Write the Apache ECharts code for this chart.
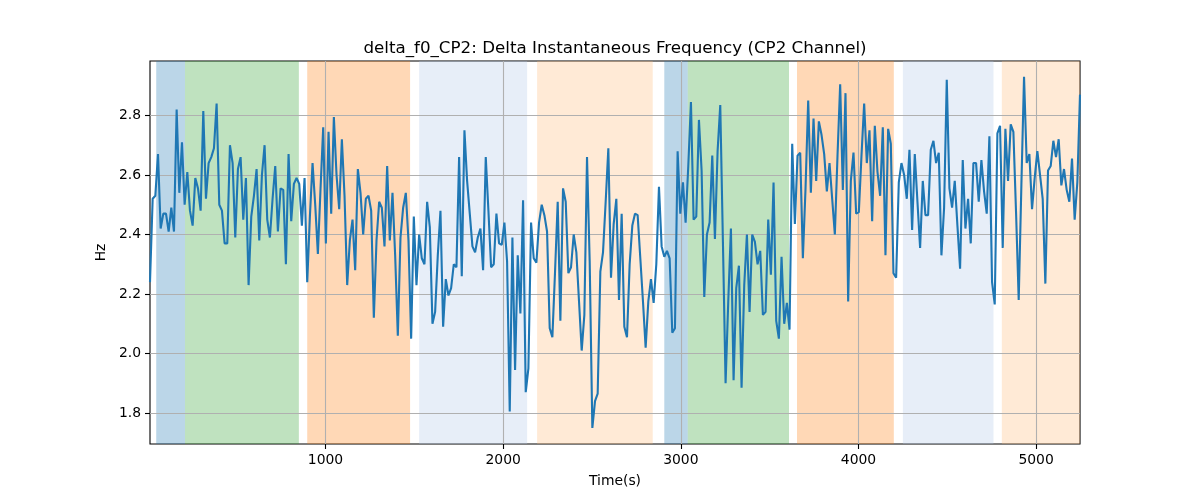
<!DOCTYPE html>
<html>
<head>
<meta charset="utf-8">
<script src="https://cdn.jsdelivr.net/npm/echarts@6/dist/echarts.min.js"></script>
<style>html,body{margin:0;padding:0;background:#fff}#c{width:1200px;height:500px}</style>
</head>
<body>
<div id="c"></div>
<script>
const t0 = 12, dt = 15;
const values1 = [2.24,2.52,2.53,2.67,2.42,2.47,2.47,2.41,2.49,2.41,2.82,2.54,2.71,2.50,2.61,2.48,2.43,2.59,2.555,2.48,2.815,2.52,2.64,2.66,2.69,2.84,2.50,2.48,2.37,2.37,2.70,2.64,2.39,2.62,2.66,2.45,2.59,2.23,2.46,2.53,2.62,2.38,2.60,2.70,2.45,2.39];
const values2 = [2.52,2.63,2.41,2.555,2.55,2.30,2.67,2.445,2.57,2.59,2.57,2.43,2.59,2.24,2.46,2.64,2.50,2.335,2.555,2.76,2.37,2.745,2.47,2.795,2.60,2.485,2.72,2.53,2.23,2.38,2.45,2.28,2.62,2.54,2.40,2.52,2.53,2.48,2.12,2.38,2.51,2.49,2.36,2.63,2.38];
const values3 = [2.54,2.33,2.06,2.39,2.49,2.54,2.38,2.05,2.46,2.23,2.40,2.32,2.30,2.51,2.425,2.10,2.14,2.33,2.48,2.09,2.25,2.195,2.22,2.30,2.29,2.66,2.26,2.75,2.58,2.47,2.36,2.34,2.39,2.42,2.28,2.66,2.48,2.29,2.30,2.47,2.37,2.365,2.44,2.31,1.805];
const values4 = [2.39,1.945,2.33,2.135,2.515,1.87,1.95,2.44,2.32,2.305,2.44,2.50,2.465,2.41,2.085,2.055,2.275,2.51,2.11,2.555,2.51,2.27,2.29,2.40,2.34,2.175,2.01,2.13,2.66,2.31,1.75,1.84,1.865,2.275,2.34,2.51,2.69,2.255,2.435,2.52,2.18,2.47,2.09,2.055,2.30];
const values5 = [2.43,2.47,2.465,2.32,2.175,2.02,2.175,2.25,2.17,2.30,2.56,2.36,2.325,2.345,2.32,2.07,2.085,2.68,2.47,2.575,2.44,2.63,2.845,2.45,2.46,2.785,2.615,2.19,2.40,2.44,2.665,2.385,2.68,2.835,2.375,1.90,2.175,2.42,1.91,2.22,2.295,1.885,2.23,2.40,2.14];
const values6 = [2.40,2.375,2.30,2.345,2.13,2.14,2.45,2.265,2.575,2.11,2.05,2.325,2.10,2.17,2.08,2.705,2.435,2.665,2.675,2.32,2.555,2.85,2.54,2.79,2.58,2.78,2.735,2.67,2.545,2.64,2.52,2.40,2.665,2.905,2.55,2.875,2.175,2.58,2.675,2.47,2.475,2.665,2.84,2.64,2.75];
const values7 = [2.445,2.765,2.61,2.53,2.76,2.33,2.755,2.705,2.27,2.255,2.575,2.64,2.60,2.52,2.685,2.415,2.67,2.51,2.355,2.58,2.465,2.465,2.685,2.715,2.64,2.675,2.33,2.49,2.92,2.555,2.49,2.58,2.43,2.285,2.65,2.42,2.52,2.37,2.64,2.64,2.51,2.65,2.545,2.47,2.73];
const values8 = [2.24,2.165,2.74,2.765,2.355,2.755,2.58,2.77,2.745,2.475,2.18,2.565,2.93,2.64,2.67,2.485,2.59,2.68,2.60,2.52,2.235,2.615,2.63,2.715,2.66,2.72,2.565,2.62,2.55,2.51,2.655,2.45,2.575,2.87];

const phaseStart = [47, 209, 897, 1527, 2191, 2907, 3039, 3654, 4250, 4807];
const phaseEnd   = [209, 850, 1476, 2135, 2842, 3039, 3609, 4199, 4760, 5247];
const phaseKind  = ['A', 'B', 'C', 'D', 'E', 'A', 'B', 'C', 'D', 'E'];

const yTicks = [1.8, 2.0, 2.2, 2.4, 2.6, 2.8];
const xTicks = [1000, 2000, 3000, 4000, 5000];

const titleText = 'delta_f0_CP2: Delta Instantaneous Frequency (CP2 Channel)';
const xName = 'Time(s)';
const yName = 'Hz';

const values = [].concat(values1, values2, values3, values4, values5, values6, values7, values8);
const points = values.map((v, i) => [t0 + dt * i, v]);
const xMin = t0, xMax = t0 + dt * (values.length - 1);

const kindColor = {A: '#1f77b4', B: '#2ca02c', C: '#ff7f0e', D: '#aec7e8', E: '#ffbb78'};
const areas = phaseStart.map((s, i) => [
  {xAxis: s, itemStyle: {color: kindColor[phaseKind[i]], opacity: 0.3}},
  {xAxis: phaseEnd[i]}
]);
const gridLines = yTicks.map(v => ({yAxis: v})).concat(xTicks.map(v => ({xAxis: v})));

const font = 'DejaVu Sans';
const chart = echarts.init(document.getElementById('c'), null, {renderer: 'canvas'});
chart.setOption({
  animation: false,
  backgroundColor: '#fff',
  title: {
    text: titleText, left: 610, top: 35, textAlign: 'center',
    textStyle: {fontFamily: font, fontSize: 16.7, fontWeight: 'normal', color: '#000'}
  },
  grid: {left: 150, top: 61, width: 930, height: 383, show: true, borderColor: '#000', borderWidth: 1.1, backgroundColor: 'transparent'},
  xAxis: {
    type: 'value', min: xMin, max: xMax,
    name: xName, nameLocation: 'middle', nameGap: 30,
    nameTextStyle: {fontFamily: font, fontSize: 13.9, color: '#000'},
    axisLine: {show: false},
    axisTick: {show: true, length: 5, lineStyle: {color: '#000', width: 1.1}, customValues: xTicks},
    axisLabel: {fontFamily: font, fontSize: 13.9, color: '#000', margin: 9, customValues: xTicks, formatter: v => String(v)},
    splitLine: {show: false}
  },
  yAxis: {
    type: 'value', min: 1.696, max: 2.983,
    name: yName, nameLocation: 'middle', nameGap: 34, nameRotate: 90,
    nameTextStyle: {fontFamily: font, fontSize: 13.9, color: '#000'},
    axisLine: {show: false},
    axisTick: {show: true, length: 5, lineStyle: {color: '#000', width: 1.1}, customValues: yTicks},
    axisLabel: {fontFamily: font, fontSize: 13.9, color: '#000', margin: 9, customValues: yTicks, formatter: v => v.toFixed(1)},
    splitLine: {show: false}
  },
  series: [{
    type: 'line', data: points, z: 3,
    showSymbol: false, symbol: 'none',
    lineStyle: {color: '#1f77b4', width: 2.1},
    itemStyle: {color: '#1f77b4'},
    emphasis: {disabled: true},
    silent: true,
    markArea: {silent: true, z: 1, data: areas},
    markLine: {
      silent: true, z: 2, symbol: ['none', 'none'], label: {show: false},
      lineStyle: {color: '#b0b0b0', width: 1.1, type: 'solid'},
      emphasis: {disabled: true},
      data: gridLines
    }
  }]
});
</script>
</body>
</html>
